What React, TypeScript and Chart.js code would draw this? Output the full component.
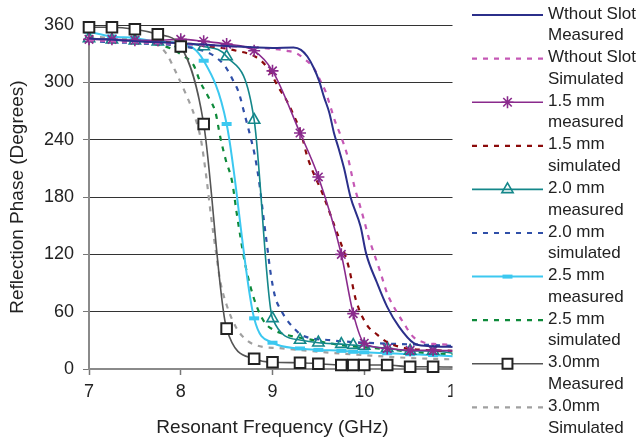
import React, { useEffect, useRef } from 'react';
import { Chart, registerables } from 'chart.js';

Chart.register(...registerables);

// ---------- data ----------
const xTicks = [7, 8, 9, 10, 11];
const yTicks = [0, 60, 120, 180, 240, 300, 360];

const noSlotMeasFreq = [7, 7.5, 8, 8.5, 9, 9.23, 9.31, 9.38, 9.45, 9.51, 9.56, 9.62, 9.67, 9.72, 9.78, 9.85, 9.96, 10.02, 10.14, 10.25, 10.38, 10.54, 10.69, 11];
const noSlotMeas = [346, 343, 341, 338, 336, 336.5, 334, 327, 315, 301, 285, 268, 247, 231, 210, 180, 149, 121, 90, 65, 44, 27, 24, 23];

const noSlotSimFreq = [7, 7.5, 8, 8.5, 9, 9.16, 9.27, 9.34, 9.45, 9.52, 9.58, 9.62, 9.69, 9.74, 9.82, 9.89, 9.95, 10.0, 10.05, 10.11, 10.18, 10.25, 10.34, 10.43, 10.53, 10.66, 10.8, 11];
const noSlotSim = [344, 342, 340, 338, 335, 333, 330, 325, 315, 302, 290, 278, 257, 245, 222, 192, 172, 155, 137, 120, 100, 79, 62, 48, 34, 27.5, 26, 25];

const measuredFreq = [7, 7.25, 7.5, 7.75, 8, 8.25, 8.5, 8.8, 9, 9.3, 9.5, 9.75, 9.88, 10, 10.25, 10.5, 10.75, 11];
const meas15 = [345, 345, 344, 344, 345, 343, 340, 333, 312, 247, 201, 120, 58, 27, 21.5, 19.5, 19.5, 19];
const meas20 = [346, 344.5, 343.5, 342.5, 341, 337.5, 327, 260.6, 53, 30.3, 27.5, 26, 25, 24, 21.7, 19, 19, 16];
const meas25 = [353, 348, 346.5, 342.5, 341, 322.6, 256.4, 53, 27.5, 21.5, 20, 19, 18, 17.5, 16.5, 15.5, 14.6, 13];
const meas30 = [357.6, 357.6, 355.5, 350.3, 337.5, 256.4, 42.2, 10.7, 7, 6.6, 5.5, 4.2, 4.2, 4.2, 4.2, 2.4, 2.4, 2];

const sim15Freq = [7, 7.5, 8, 8.38, 8.61, 8.81, 8.94, 9.07, 9.16, 9.22, 9.31, 9.38, 9.56, 9.69, 9.74, 9.83, 9.91, 10.03, 10.14, 10.25, 10.44, 10.65, 11];
const sim15 = [345, 343, 341, 337, 333, 327, 316, 294, 280, 268, 247, 222, 180, 146, 133, 107, 72, 46, 36, 28, 22, 20, 19];

const sim20Freq = [7, 7.5, 8, 8.3, 8.4, 8.49, 8.57, 8.63, 8.7, 8.76, 8.81, 8.86, 8.9, 8.94, 8.98, 9.03, 9.09, 9.16, 9.23, 9.31, 9.65, 10.14, 10.76, 11];
const sim20 = [343, 341, 338, 331, 325, 316, 302, 290, 265, 243, 222, 192, 160, 130, 100, 75, 62, 51, 43, 36, 30, 27, 25, 24];

const sim25Freq = [7, 7.5, 7.89, 8.01, 8.14, 8.21, 8.3, 8.38, 8.43, 8.49, 8.56, 8.61, 8.65, 8.7, 8.76, 8.83, 8.92, 9.01, 9.16, 9.4, 9.75, 10.25, 10.7, 11];
const sim25 = [344, 342, 335.6, 328.6, 318, 301, 285, 268, 243, 219, 196, 163, 138.5, 110.6, 86, 65, 48, 41, 35.6, 31, 25, 20.6, 16.4, 15];

const sim30Freq = [7, 7.3, 7.6, 7.75, 7.85, 7.95, 8.05, 8.15, 8.22, 8.28, 8.33, 8.38, 8.43, 8.5, 8.6, 8.72, 8.9, 9.05, 9.5, 10, 10.5, 11];
const sim30 = [348, 346, 343, 339, 329, 310, 289, 265, 240, 200, 160, 125, 92, 67, 44, 30, 23, 22, 18, 14.5, 11.5, 10];

const legendLines = [
  ['Wthout Slot', 'Measured'],
  ['Wthout Slot', 'Simulated'],
  ['1.5 mm', 'measured'],
  ['1.5 mm', 'simulated'],
  ['2.0 mm', 'measured'],
  ['2.0 mm', 'simulated'],
  ['2.5 mm', 'measured'],
  ['2.5 mm', 'simulated'],
  ['3.0mm', 'Measured'],
  ['3.0mm', 'Simulated'],
];

const xTitle = 'Resonant Frequency (GHz)';
const yTitle = 'Reflection Phase (Degrees)';

// ---------- helpers ----------
const FONT = '"Liberation Sans", Arial, Helvetica, sans-serif';
const TEXT = '#222222';
const DASH = [5, 6];

function pts(xs: number[], ys: number[]) {
  return xs.map((x, i) => ({ x, y: ys[i] }));
}

function drawMarker(ctx: CanvasRenderingContext2D, style: string, x: number, y: number, r: number, stroke: string, fill: string, bw: number) {
  ctx.save();
  ctx.setLineDash([]);
  ctx.lineWidth = bw;
  ctx.strokeStyle = stroke;
  ctx.fillStyle = fill;
  ctx.beginPath();
  if (style === 'rect') {
    const s = Math.SQRT1_2 * r;
    ctx.rect(x - s, y - s, 2 * s, 2 * s);
    ctx.fill();
    ctx.stroke();
  } else if (style === 'triangle') {
    for (let k = 0; k < 3; k++) {
      const a = -Math.PI / 2 + (k * 2 * Math.PI) / 3;
      const px = x + Math.cos(a) * r;
      const py = y + Math.sin(a) * r;
      if (k === 0) ctx.moveTo(px, py);
      else ctx.lineTo(px, py);
    }
    ctx.closePath();
    ctx.fill();
    ctx.stroke();
  } else if (style === 'star') {
    ctx.moveTo(x, y - r); ctx.lineTo(x, y + r);
    ctx.moveTo(x - r, y); ctx.lineTo(x + r, y);
    const d = r * Math.SQRT1_2;
    ctx.moveTo(x - d, y - d); ctx.lineTo(x + d, y + d);
    ctx.moveTo(x - d, y + d); ctx.lineTo(x + d, y - d);
    ctx.stroke();
  } else if (style === 'line') {
    ctx.moveTo(x - r, y); ctx.lineTo(x + r, y);
    ctx.stroke();
  }
  ctx.restore();
}

const sideLegend = {
  id: 'sideLegend',
  afterDraw(chart: any) {
    const ctx: CanvasRenderingContext2D = chart.ctx;
    const x0 = 472;
    const x1 = 543;
    const tx = 548;
    const top = 15;
    const step = 43.6;
    ctx.save();
    // legend panel covers the right edge of the plot
    ctx.fillStyle = '#ffffff';
    ctx.fillRect(452.5, 0, chart.width - 452.5, chart.height);
    chart.data.datasets.forEach((ds: any, i: number) => {
      const y = top + i * step;
      ctx.strokeStyle = ds.borderColor;
      ctx.lineWidth = ds.borderWidth;
      ctx.setLineDash(ds.borderDash || []);
      ctx.beginPath();
      ctx.moveTo(x0, y);
      ctx.lineTo(x1, y);
      ctx.stroke();
      ctx.setLineDash([]);
      if (ds.legendMarker) {
        const m = ds.legendMarker;
        drawMarker(ctx, m.style, (x0 + x1) / 2, y, m.r, m.stroke, m.fill, m.bw);
      }
      ctx.fillStyle = TEXT;
      ctx.font = `17px ${FONT}`;
      ctx.textBaseline = 'middle';
      ctx.textAlign = 'left';
      const lines = legendLines[i];
      ctx.fillText(lines[0], tx, y - 1);
      ctx.fillText(lines[1], tx, y + 20.5);
    });
    ctx.restore();
  },
};

export default function App() {
  const ref = useRef<HTMLCanvasElement | null>(null);

  useEffect(() => {
    document.body.style.margin = '0';
    if (!ref.current) return;
    const lastIdx = measuredFreq.length - 1;
    const radius = (r: number) => (c: any) => (c.dataIndex === lastIdx ? 0 : r);

    const base = {
      cubicInterpolationMode: 'monotone' as const,
      tension: 0.4,
      fill: false,
      clip: false as any,
    };

    const datasets: any[] = [
      {
        ...base, label: legendLines[0].join(' '), data: pts(noSlotMeasFreq, noSlotMeas),
        borderColor: '#2B2F8A', borderWidth: 2, pointRadius: 0,
      },
      {
        ...base, label: legendLines[1].join(' '), data: pts(noSlotSimFreq, noSlotSim),
        borderColor: '#C558B5', borderWidth: 2.2, borderDash: DASH, pointRadius: 0,
      },
      {
        ...base, label: legendLines[2].join(' '), data: pts(measuredFreq, meas15),
        borderColor: '#8A2A8C', borderWidth: 1.6, pointStyle: 'star', pointRadius: radius(6),
        pointBorderColor: '#8A2A8C', pointBorderWidth: 1.6, pointBackgroundColor: '#8A2A8C',
        legendMarker: { style: 'star', r: 6, stroke: '#8A2A8C', fill: '#8A2A8C', bw: 1.6 },
      },
      {
        ...base, label: legendLines[3].join(' '), data: pts(sim15Freq, sim15),
        borderColor: '#8B0A0A', borderWidth: 2.2, borderDash: DASH, pointRadius: 0,
      },
      {
        ...base, label: legendLines[4].join(' '), data: pts(measuredFreq, meas20),
        borderColor: '#14878A', borderWidth: 1.6, pointStyle: 'triangle', pointRadius: radius(6.5),
        pointBorderColor: '#14878A', pointBorderWidth: 1.6, pointBackgroundColor: 'rgba(255,255,255,0)',
        legendMarker: { style: 'triangle', r: 6.5, stroke: '#14878A', fill: 'rgba(255,255,255,0)', bw: 1.6 },
      },
      {
        ...base, label: legendLines[5].join(' '), data: pts(sim20Freq, sim20),
        borderColor: '#2F4FA8', borderWidth: 2.2, borderDash: DASH, pointRadius: 0,
      },
      {
        ...base, label: legendLines[6].join(' '), data: pts(measuredFreq, meas25),
        borderColor: '#3CC8F0', borderWidth: 2, pointStyle: 'line', pointRadius: radius(5),
        pointBorderColor: '#3CC8F0', pointBorderWidth: 4, pointBackgroundColor: '#3CC8F0',
        legendMarker: { style: 'line', r: 5, stroke: '#3CC8F0', fill: '#3CC8F0', bw: 4 },
      },
      {
        ...base, label: legendLines[7].join(' '), data: pts(sim25Freq, sim25),
        borderColor: '#0E8A3A', borderWidth: 2.2, borderDash: DASH, pointRadius: 0,
      },
      {
        ...base, label: legendLines[8].join(' '), data: pts(measuredFreq, meas30),
        borderColor: '#555555', borderWidth: 1.6, pointStyle: 'rect', pointRadius: radius(7.5),
        pointBorderColor: '#222222', pointBorderWidth: 2, pointBackgroundColor: '#ffffff',
        legendMarker: { style: 'rect', r: 7, stroke: '#222222', fill: '#ffffff', bw: 2 },
        order: -1,
      },
      {
        ...base, label: legendLines[9].join(' '), data: pts(sim30Freq, sim30),
        borderColor: '#A0A0A0', borderWidth: 2.2, borderDash: DASH, pointRadius: 0,
      },
    ];

    const chart = new Chart(ref.current, {
      type: 'line',
      data: { datasets },
      options: {
        animation: false,
        responsive: true,
        maintainAspectRatio: false,
        layout: { padding: { top: 25, right: 181, bottom: 0, left: 0 } },
        plugins: { legend: { display: false }, tooltip: { enabled: false } },
        scales: {
          x: {
            type: 'linear',
            min: 7,
            max: 11,
            afterFit: (s: any) => { s.height = 70; },
            afterBuildTicks: (s: any) => { s.ticks = xTicks.map((v) => ({ value: v })); },
            ticks: {
              autoSkip: false,
              maxRotation: 0,
              padding: 6,
              color: TEXT,
              font: { family: FONT, size: 18 },
            },
            grid: { drawOnChartArea: false, drawTicks: true, tickLength: 6, tickColor: '#777777', tickWidth: 1.5 },
            border: { color: '#8A8A8A', width: 2 },
            title: { display: true, text: xTitle, color: TEXT, font: { family: FONT, size: 19 }, padding: { top: 0, bottom: 0 } },
          },
          y: {
            type: 'linear',
            min: 0,
            max: 360,
            afterFit: (s: any) => { s.width = 89; },
            afterBuildTicks: (s: any) => { s.ticks = yTicks.map((v) => ({ value: v })); },
            ticks: { padding: 9, color: TEXT, font: { family: FONT, size: 18 } },
            grid: { color: '#333333', lineWidth: 1, drawTicks: true, tickLength: 6, tickColor: '#777777' },
            border: { color: '#8A8A8A', width: 2 },
            title: { display: true, text: yTitle, color: TEXT, font: { family: FONT, size: 19 }, padding: { top: 6, bottom: 4 } },
          },
        },
      },
      plugins: [sideLegend],
    });
    return () => chart.destroy();
  }, []);

  return (
    <div style={{ width: 637, height: 439, position: 'relative' }}>
      <canvas ref={ref} />
    </div>
  );
}
